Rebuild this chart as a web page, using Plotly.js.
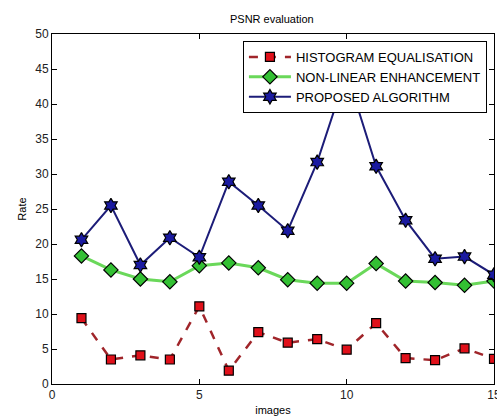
<!DOCTYPE html>
<html><head><meta charset="utf-8">
<script src="https://cdn.plot.ly/plotly-3.0.1.min.js"></script>
<style>html,body{margin:0;padding:0;background:#fff}#chart{width:497px;height:419px}</style>
</head><body><div id="chart"></div>
<script>
const images = [1,2,3,4,5,6,7,8,9,10,11,12,13,14,15];
const histEq = [9.4,3.5,4.1,3.5,11.1,1.9,7.4,5.9,6.4,4.9,8.7,3.7,3.4,5.1,3.6];
const nonLinear = [18.3,16.3,15.0,14.6,16.9,17.3,16.6,14.9,14.4,14.4,17.2,14.7,14.5,14.1,14.7];
const proposed = [20.6,25.5,17.0,20.9,18.1,28.9,25.5,21.9,31.7,44.5,31.1,23.4,17.9,18.2,15.6];
const names = ['HISTOGRAM EQUALISATION','NON-LINEAR ENHANCEMENT','PROPOSED ALGORITHM'];

const traces = [
  {x: images, y: histEq, name: names[0], mode: 'lines+markers', type: 'scatter',
   line: {color: '#a0252a', width: 2.5, dash: 'dash'},
   marker: {symbol: 'square', size: 9, color: '#e0101a', line: {color: '#000', width: 1.2}}},
  {x: images, y: nonLinear, name: names[1], mode: 'lines+markers', type: 'scatter',
   line: {color: '#6ad85a', width: 3},
   marker: {symbol: 'diamond', size: 11, color: '#33c033', line: {color: '#000', width: 1.2}}},
  {x: images, y: proposed, name: names[2], mode: 'lines+markers', type: 'scatter',
   line: {color: '#1c1c78', width: 2},
   marker: {symbol: 'hexagram', size: 11, color: '#1a1aa0', line: {color: '#000', width: 1.2}}}
];

const axisCommon = {
  showgrid: false, zeroline: false, showline: true, linecolor: '#000', linewidth: 1,
  mirror: 'allticks', ticks: 'inside', ticklen: 5, tickcolor: '#000',
  ticklabeloverflow: 'allow',
  tickfont: {family: 'Liberation Sans, Arial, sans-serif', size: 12, color: '#222'}
};

const layout = {
  width: 497, height: 419,
  margin: {l: 52, r: 3, t: 34, b: 35},
  paper_bgcolor: '#fff', plot_bgcolor: '#fff',
  showlegend: true,
  font: {family: 'Liberation Sans, Arial, sans-serif', color: '#000'},
  title: {text: 'PSNR evaluation', font: {size: 11, color: '#000'}, x: 0.547, xanchor: 'center', y: 0.955, yanchor: 'middle'},
  xaxis: Object.assign({}, axisCommon, {range: [0, 15], dtick: 5, tick0: 0,
    title: {text: 'images', font: {size: 11}, standoff: 4}}),
  yaxis: Object.assign({}, axisCommon, {range: [0, 50], dtick: 5, tick0: 0,
    title: {text: 'Rate', font: {size: 11}, standoff: 6}}),
  legend: {x: 0.984, xanchor: 'right', y: 0.98, yanchor: 'top',
    bgcolor: '#fff', bordercolor: '#000', borderwidth: 1,
    font: {size: 13, color: '#000'}, tracegroupgap: 0, itemwidth: 42}
};

Plotly.newPlot('chart', traces, layout, {displayModeBar: false, staticPlot: true});
</script></body></html>
